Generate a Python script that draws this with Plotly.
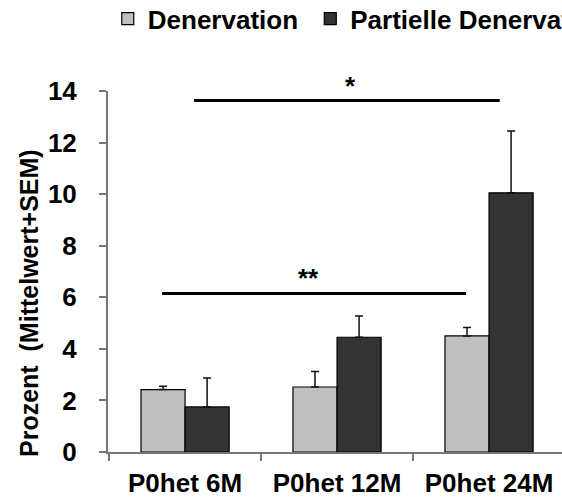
import plotly.graph_objects as go

categories = ["P0het 6M", "P0het 12M", "P0het 24M"]
denervation = [2.42, 2.52, 4.50]
denervation_sem = [0.13, 0.60, 0.33]
partial = [1.75, 4.45, 10.05]
partial_sem = [1.12, 0.82, 2.40]
series_names = ["Denervation\u00a0", "Partielle Denervation"]

# significance brackets: (x start, x end, y level, label, label x)
sig_x0 = [-0.151, 0.059]
sig_x1 = [1.849, 2.07]
sig_y = [6.15, 13.63]
sig_text = ["**", "*"]
sig_tx = [0.81, 1.086]

FONT = "Liberation Sans, Arial, sans-serif"
AXIS_GREY = "#777777"
FS = 26

fig = go.Figure()
fig.add_trace(go.Bar(
    x=categories, y=denervation, name=series_names[0],
    marker=dict(color="#C0C0C0", line=dict(color="#000000", width=1.2)),
    error_y=dict(type="data", array=denervation_sem, arrayminus=[0, 0, 0],
                 symmetric=False, color="#111111", thickness=1.5, width=4),
))
fig.add_trace(go.Bar(
    x=categories, y=partial, name=series_names[1],
    marker=dict(color="#333333", line=dict(color="#000000", width=1.2)),
    error_y=dict(type="data", array=partial_sem, arrayminus=[0, 0, 0],
                 symmetric=False, color="#111111", thickness=1.5, width=4),
))

for x0, x1, y, t, tx in zip(sig_x0, sig_x1, sig_y, sig_text, sig_tx):
    fig.add_shape(type="line", xref="x", yref="y", x0=x0, x1=x1, y0=y, y1=y,
                  line=dict(color="#000000", width=3))
    fig.add_annotation(xref="x", yref="y", x=tx, y=y, yshift=15, text=t,
                       showarrow=False, xanchor="center", yanchor="middle",
                       font=dict(family=FONT, size=FS, color="#000000", weight="bold"))

fig.add_annotation(xref="paper", yref="paper", x=-0.174, y=0.4127,
                   text="Prozent\u00a0\u00a0(Mittelwert+SEM)", textangle=-90,
                   showarrow=False, xanchor="center", yanchor="middle",
                   font=dict(family=FONT, size=25, color="#000000", weight="bold"))

fig.update_layout(
    width=562, height=498,
    margin=dict(l=108, r=0, t=91, b=46, autoexpand=False),
    paper_bgcolor="white", plot_bgcolor="white",
    barmode="group", bargap=0.42, bargroupgap=0,
    font=dict(family=FONT, size=FS, color="#000000", weight="bold"),
    showlegend=True,
    legend=dict(orientation="h", x=-0.0005, xanchor="left", yref="paper",
                y=1.2655, yanchor="top", bgcolor="rgba(0,0,0,0)", borderwidth=0,
                itemwidth=30, tracegroupgap=0,
                font=dict(family=FONT, size=FS, color="#000000", weight="bold")),
    xaxis=dict(range=[-0.507, 2.48], showline=True, linecolor=AXIS_GREY, linewidth=2,
               ticks="outside", tickson="boundaries", ticklen=7, tickwidth=1.5,
               tickcolor=AXIS_GREY, showgrid=False, zeroline=False,
               ticklabelstandoff=7,
               tickfont=dict(family=FONT, size=FS, color="#000000", weight="bold")),
    yaxis=dict(range=[0, 14], tickvals=[0, 2, 4, 6, 8, 10, 12, 14], showline=True,
               linecolor=AXIS_GREY, linewidth=2, ticks="outside", ticklen=7,
               tickwidth=1.5, tickcolor=AXIS_GREY, showgrid=False, zeroline=False,
               ticklabelstandoff=17,
               tickfont=dict(family=FONT, size=FS, color="#000000", weight="bold")),
)

fig.write_html("out.html")
